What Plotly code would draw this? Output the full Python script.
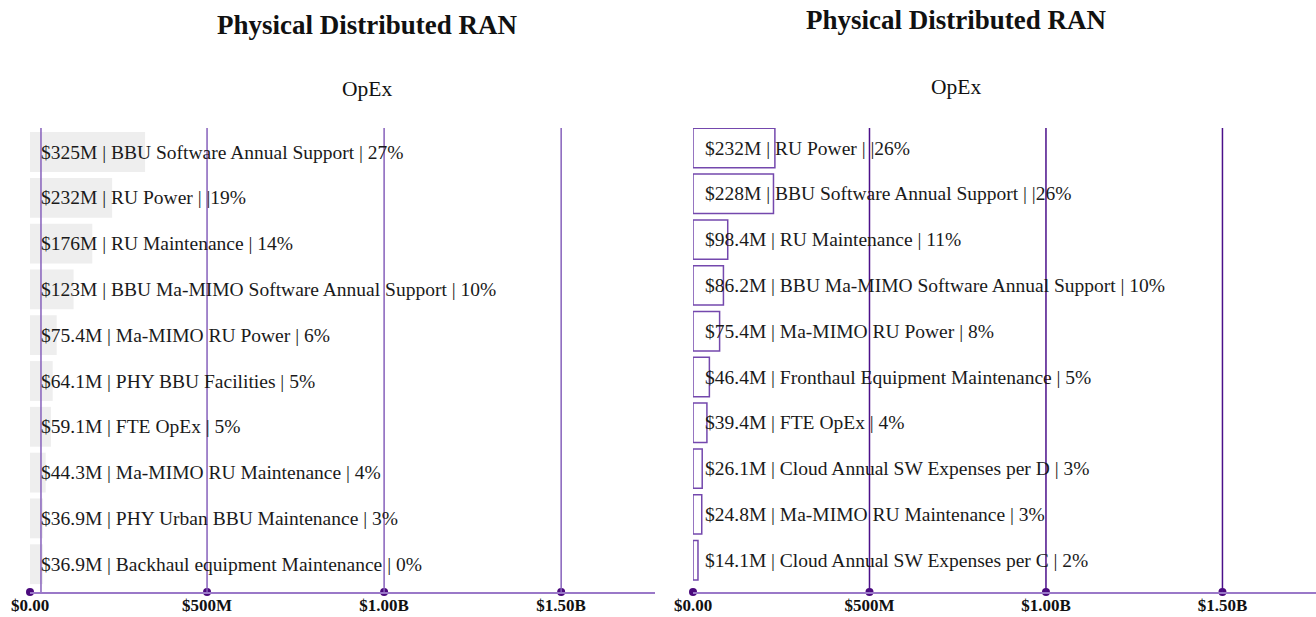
import plotly.graph_objects as go

# ---- data ----
left_labels = ["BBU Software Annual Support", "RU Power", "RU Maintenance",
               "BBU Ma-MIMO Software Annual Support", "Ma-MIMO RU Power",
               "PHY BBU Facilities", "FTE OpEx", "Ma-MIMO RU Maintenance",
               "PHY Urban BBU Maintenance", "Backhaul equipment Maintenance"]
left_values = [325e6, 232e6, 176e6, 123e6, 75.4e6, 64.1e6, 59.1e6, 44.3e6, 36.9e6, 36.9e6]
left_value_text = ["$325M", "$232M", "$176M", "$123M", "$75.4M", "$64.1M", "$59.1M",
                   "$44.3M", "$36.9M", "$36.9M"]
left_pct = ["27%", "|19%", "14%", "10%", "6%", "5%", "5%", "4%", "3%", "0%"]

right_labels = ["RU Power", "BBU Software Annual Support", "RU Maintenance",
                "BBU Ma-MIMO Software Annual Support", "Ma-MIMO RU Power",
                "Fronthaul Equipment Maintenance", "FTE OpEx",
                "Cloud Annual SW Expenses per D", "Ma-MIMO RU Maintenance",
                "Cloud Annual SW Expenses per C"]
right_values = [232e6, 228e6, 98.4e6, 86.2e6, 75.4e6, 46.4e6, 39.4e6, 26.1e6, 24.8e6, 14.1e6]
right_value_text = ["$232M", "$228M", "$98.4M", "$86.2M", "$75.4M", "$46.4M", "$39.4M",
                    "$26.1M", "$24.8M", "$14.1M"]
right_pct = ["|26%", "|26%", "11%", "10%", "8%", "5%", "4%", "3%", "3%", "2%"]

tick_vals = [0, 500e6, 1000e6, 1500e6]
tick_text = ["$0.00", "$500M", "$1.00B", "$1.50B"]

title_text = "Physical Distributed RAN"
subtitle_text = "OpEx"

# ---- style ----
FONT = "Liberation Serif"
W, H = 1316, 617
AXIS_COLOR = "#9a78c8"
DOT_COLOR = "#4b0a7d"
GRID_LEFT = "#8660bb"
GRID_RIGHT = "#4b0f8a"
TEXT_COLOR = "#1a1a1a"

L_RANGE_Y = [9.607, -0.524]
R_RANGE_Y = [9.694, -0.437]
X_MAX = 1.765e9

fig = go.Figure()

rows = list(range(len(left_labels)))

fig.add_trace(go.Bar(
    x=left_values, y=rows, orientation="h", width=0.87,
    marker=dict(color="#eeeeee", line=dict(width=0)),
    xaxis="x", yaxis="y", hoverinfo="skip", showlegend=False))

fig.add_trace(go.Bar(
    x=right_values, y=rows, orientation="h", width=0.86,
    marker=dict(color="rgba(255,255,255,0)", line=dict(width=1.5, color="#7448ad")),
    xaxis="x2", yaxis="y2", hoverinfo="skip", showlegend=False))

# dots on axis
fig.add_trace(go.Scatter(
    x=tick_vals, y=[L_RANGE_Y[0]] * len(tick_vals), mode="markers",
    marker=dict(size=8, color=DOT_COLOR), cliponaxis=False,
    xaxis="x", yaxis="y", hoverinfo="skip", showlegend=False))
fig.add_trace(go.Scatter(
    x=tick_vals, y=[R_RANGE_Y[0]] * len(tick_vals), mode="markers",
    marker=dict(size=8, color=DOT_COLOR), cliponaxis=False,
    xaxis="x2", yaxis="y2", hoverinfo="skip", showlegend=False))

shapes = []
for t in tick_vals[1:]:
    shapes.append(dict(type="line", xref="x", yref="y domain", x0=t, x1=t, y0=0, y1=1,
                       line=dict(color=GRID_LEFT, width=1.5), layer="above"))
    shapes.append(dict(type="line", xref="x2", yref="y2 domain", x0=t, x1=t, y0=0, y1=1,
                       line=dict(color=GRID_RIGHT, width=1.5), layer="above"))
shapes.append(dict(type="line", xref="x", yref="y domain", x0=31e6, x1=31e6, y0=0, y1=1,
                   line=dict(color=GRID_LEFT, width=1.5), layer="above"))

annotations = []
for i in rows:
    annotations.append(dict(
        x=0, y=i, xref="x", yref="y", xanchor="left", yanchor="middle", xshift=9,
        text=f"{left_value_text[i]} | {left_labels[i]} | {left_pct[i]}",
        showarrow=False, font=dict(family=FONT, size=19.5, color=TEXT_COLOR)))
    annotations.append(dict(
        x=0, y=i, xref="x2", yref="y2", xanchor="left", yanchor="middle", xshift=10,
        text=f"{right_value_text[i]} | {right_labels[i]} | {right_pct[i]}",
        showarrow=False, font=dict(family=FONT, size=19.5, color=TEXT_COLOR)))

for cx, ty, sy in [(367, 25, 89), (956, 20, 87)]:
    annotations.append(dict(
        x=cx / W, y=1 - ty / H, xref="paper", yref="paper", xanchor="center", yanchor="middle",
        text=f"<b>{title_text}</b>", showarrow=False,
        font=dict(family=FONT, size=27, color="#111111")))
    annotations.append(dict(
        x=cx / W, y=1 - sy / H, xref="paper", yref="paper", xanchor="center", yanchor="middle",
        text=subtitle_text, showarrow=False,
        font=dict(family=FONT, size=21.5, color="#111111")))

xaxis_common = dict(
    range=[0, X_MAX], tickvals=tick_vals, ticktext=tick_text, automargin=False,
    showgrid=False, zeroline=False, showline=True, linecolor=AXIS_COLOR, linewidth=2,
    ticks="", ticklabelstandoff=-3,
    tickfont=dict(family=FONT, size=17, color="#111111", weight="bold"),
    fixedrange=True)

fig.update_layout(
    width=W, height=H,
    margin=dict(l=0, r=0, t=0, b=0, pad=0),
    paper_bgcolor="white", plot_bgcolor="white",
    barmode="overlay",
    xaxis=dict(domain=[30 / W, 655 / W], anchor="y", **xaxis_common),
    xaxis2=dict(domain=[693 / W, 1.0], anchor="y2", **xaxis_common),
    yaxis=dict(domain=[1 - 592 / H, 1 - 128 / H], range=L_RANGE_Y, visible=False,
               anchor="x", fixedrange=True, automargin=False),
    yaxis2=dict(domain=[1 - 592 / H, 1 - 128 / H], range=R_RANGE_Y, visible=False,
                anchor="x2", fixedrange=True, automargin=False),
    shapes=shapes, annotations=annotations,
)

fig.write_html("out.html", config={"displayModeBar": False},
               post_script="document.body.style.margin='0px';document.body.style.overflow='hidden';")
